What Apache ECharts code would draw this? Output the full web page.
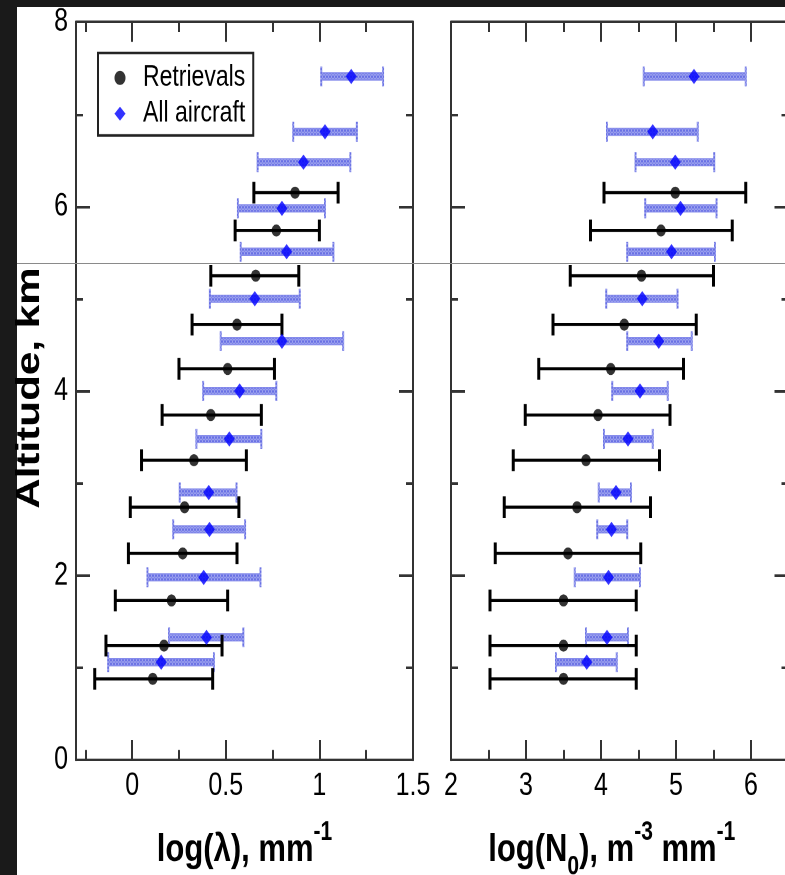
<!DOCTYPE html>
<html>
<head>
<meta charset="utf-8">
<script src="https://cdn.jsdelivr.net/npm/echarts@6/dist/echarts.min.js"></script>
<style>
  html, body { margin: 0; padding: 0; background: #1a1a1a; height: 875px; overflow: hidden; }
  /* the source picture is stretched vertically, so the chart is drawn flatter and stretched */
  #chart { width: 785px; height: 684px; transform: scaleY(1.27924); transform-origin: 0 0; }
</style>
</head>
<body>
<div id="chart"></div>
<script>
// Retrievals (black circles)
const retAlt = [6.15, 5.74, 5.25, 4.72, 4.24, 3.74, 3.25, 2.74, 2.24, 1.73, 1.24, 0.88];
const retLam = [0.87, 0.77, 0.66, 0.56, 0.51, 0.42, 0.33, 0.28, 0.27, 0.21, 0.17, 0.11];
const retLamLo = [0.65, 0.55, 0.42, 0.32, 0.25, 0.16, 0.05, -0.01, -0.02, -0.09, -0.14, -0.20];
const retLamHi = [1.10, 1.00, 0.89, 0.80, 0.76, 0.69, 0.61, 0.57, 0.56, 0.51, 0.48, 0.43];
const retN0 = [4.99, 4.80, 4.54, 4.31, 4.13, 3.96, 3.80, 3.68, 3.56, 3.50, 3.50, 3.50];
const retN0Lo = [4.04, 3.86, 3.59, 3.36, 3.17, 2.99, 2.83, 2.71, 2.59, 2.52, 2.52, 2.52];
const retN0Hi = [5.93, 5.75, 5.50, 5.27, 5.10, 4.92, 4.78, 4.66, 4.53, 4.47, 4.47, 4.47];

// All aircraft (blue diamonds)
const acAlt = [7.41, 6.81, 6.48, 5.98, 5.51, 5.00, 4.54, 4.00, 3.48, 2.90, 2.50, 1.98, 1.33, 1.06];
const acLam = [1.17, 1.03, 0.915, 0.80, 0.825, 0.655, 0.80, 0.574, 0.519, 0.409, 0.413, 0.382, 0.397, 0.155];
const acLamLo = [1.01, 0.86, 0.67, 0.565, 0.58, 0.415, 0.473, 0.379, 0.343, 0.254, 0.219, 0.082, 0.197, -0.128];
const acLamHi = [1.34, 1.20, 1.165, 1.03, 1.075, 0.895, 1.127, 0.77, 0.69, 0.557, 0.603, 0.685, 0.594, 0.437];
const acN0 = [5.24, 4.69, 4.99, 5.06, 4.94, 4.55, 4.77, 4.52, 4.36, 4.20, 4.14, 4.10, 4.08, 3.81];
const acN0Lo = [4.57, 4.08, 4.46, 4.59, 4.35, 4.07, 4.35, 4.15, 4.04, 3.97, 3.95, 3.65, 3.80, 3.40];
const acN0Hi = [5.93, 5.29, 5.51, 5.54, 5.52, 5.02, 5.21, 4.89, 4.69, 4.40, 4.35, 4.52, 4.36, 4.21];

// tick labels
const lamMajor = [0, 0.5, 1, 1.5];
const lamMinor = [-0.25, 0.25, 0.75, 1.25];
const n0Major = [2, 3, 4, 5, 6];
const n0Minor = [2.5, 3.5, 4.5, 5.5];

const FONT = "'Liberation Sans', Arial, Helvetica, sans-serif";

// hatched light-blue fill for the aircraft error bars
function hatch() {
  const c = document.createElement('canvas');
  c.width = 3; c.height = 3;
  const g = c.getContext('2d');
  g.fillStyle = '#b3b7f4';
  g.fillRect(0, 0, 3, 3);
  g.fillStyle = '#5f67e2';
  g.fillRect(0, 0, 1, 1); g.fillRect(1, 1, 1, 1); g.fillRect(2, 2, 1, 1);
  g.fillRect(2, 0, 1, 1); g.fillRect(0, 2, 1, 1);
  return { image: c, repeat: 'repeat' };
}
const blueFill = hatch();

function pack(lo, hi, alt) {
  return alt.map((a, i) => [lo[i], hi[i], a]);
}
function pts(x, alt) {
  return alt.map((a, i) => [x[i], a]);
}

function blackBar(params, api) {
  const p0 = api.coord([api.value(0), api.value(2)]);
  const p1 = api.coord([api.value(1), api.value(2)]);
  const st = { stroke: '#000', lineWidth: 2.4 };
  const cap = { stroke: '#000', lineWidth: 3 };
  return {
    type: 'group',
    children: [
      { type: 'line', shape: { x1: p0[0], y1: p0[1], x2: p1[0], y2: p1[1] }, style: st },
      { type: 'line', shape: { x1: p0[0], y1: p0[1] - 8.5, x2: p0[0], y2: p0[1] + 8.5 }, style: cap },
      { type: 'line', shape: { x1: p1[0], y1: p1[1] - 8.5, x2: p1[0], y2: p1[1] + 8.5 }, style: cap }
    ]
  };
}

function blueBar(params, api) {
  const p0 = api.coord([api.value(0), api.value(2)]);
  const p1 = api.coord([api.value(1), api.value(2)]);
  const st = { fill: blueFill, stroke: '#868cec', lineWidth: 0.8 };
  return {
    type: 'group',
    children: [
      { type: 'rect', shape: { x: p0[0], y: p0[1] - 2.8, width: p1[0] - p0[0], height: 5.6 }, style: st },
      { type: 'rect', shape: { x: p0[0] - 1, y: p0[1] - 7.8, width: 2, height: 15.6 }, style: { fill: blueFill } },
      { type: 'rect', shape: { x: p1[0] - 1, y: p1[1] - 7.8, width: 2, height: 15.6 }, style: { fill: blueFill } }
    ]
  };
}

const axisLine = { show: true, onZero: false, lineStyle: { color: '#333', width: 2 } };
const tickStyle = { color: '#333', width: 2 };
const labelStyle = { fontFamily: FONT, fontSize: 25, color: '#000' };

function xAxes(grid, min, max, major, minor, name, nameStyle) {
  return [
    { type: 'value', gridIndex: grid, min: min, max: max, position: 'bottom',
      axisLine: axisLine, splitLine: { show: false },
      axisTick: { inside: true, length: 15.6, lineStyle: tickStyle, customValues: major },
      axisLabel: Object.assign({ margin: 8, customValues: major }, labelStyle),
      name: name, nameLocation: 'middle', nameGap: 46, nameTextStyle: nameStyle },
    { type: 'value', gridIndex: grid, min: min, max: max, position: 'bottom',
      axisLine: { show: false, onZero: false }, splitLine: { show: false }, axisLabel: { show: false },
      axisTick: { inside: true, length: 7.8, lineStyle: tickStyle, customValues: minor } },
    { type: 'value', gridIndex: grid, min: min, max: max, position: 'top',
      axisLine: axisLine, splitLine: { show: false }, axisLabel: { show: false },
      axisTick: { inside: true, length: 15.6, lineStyle: tickStyle, customValues: major } },
    { type: 'value', gridIndex: grid, min: min, max: max, position: 'top',
      axisLine: { show: false, onZero: false }, splitLine: { show: false }, axisLabel: { show: false },
      axisTick: { inside: true, length: 7.8, lineStyle: tickStyle, customValues: minor } }
  ];
}

function yAxis(grid, pos, labels) {
  return {
    type: 'value', gridIndex: grid, min: 0, max: 8, interval: 2, position: pos,
    axisLine: axisLine, splitLine: { show: false },
    axisTick: { inside: true, length: 14, lineStyle: tickStyle },
    minorTick: { show: true, splitNumber: 2, length: 7, lineStyle: tickStyle },
    axisLabel: labels ? Object.assign({ margin: 8 }, labelStyle) : { show: false }
  };
}

const nameRich = {
  a: { fontFamily: FONT, fontSize: 31, fontWeight: 'bold', color: '#000', padding: [9, 0, 8, 0], verticalAlign: 'middle' },
  s: { fontFamily: FONT, fontSize: 21, fontWeight: 'bold', color: '#000', verticalAlign: 'top' },
  b: { fontFamily: FONT, fontSize: 21, fontWeight: 'bold', color: '#000', verticalAlign: 'bottom' }
};

const chart = echarts.init(document.getElementById('chart'), null, { devicePixelRatio: 2 });
chart.setOption({
  backgroundColor: '#1a1a1a',
  animation: false,
  graphic: [
    { type: 'rect', left: 17, top: 5.5, z: -100, silent: true,
      shape: { width: 768, height: 700 }, style: { fill: '#fff' } },
    { type: 'text', x: 30, y: 303.3, rotation: Math.PI / 2, z: 10,
      style: { text: 'Altitude, km', font: "bold 33px 'Liberation Sans', Arial, sans-serif",
        fill: '#000', textAlign: 'center', textVerticalAlign: 'middle' } },
    { type: 'line', z: 100, silent: true,
      shape: { x1: 17, y1: 206, x2: 785, y2: 206 }, style: { stroke: '#8a8a8a', lineWidth: 1 } }
  ],
  legend: {
    left: 98, top: 41.4, orient: 'vertical',
    data: [{ name: 'Retrievals', icon: 'circle' }, { name: 'All aircraft', icon: 'diamond' }],
    borderColor: '#222', borderWidth: 2, borderRadius: 0,
    padding: [7.5, 8, 5, 16.5], itemGap: 4, itemWidth: 11, itemHeight: 11,
    textStyle: { fontFamily: FONT, fontSize: 23, color: '#000', lineHeight: 24, padding: [0, 0, 0, 12.5] }
  },
  grid: [
    { left: 76, top: 17.2, width: 337, height: 576.9, outerBoundsMode: 'none' },
    { left: 451, top: 17.2, width: 337.5, height: 576.9, outerBoundsMode: 'none' }
  ],
  xAxis: [].concat(
    xAxes(0, -0.3, 1.5, lamMajor, lamMinor, '{a|log(λ), mm}{s|-1}', { rich: nameRich }),
    xAxes(1, 2, 6.5, n0Major, n0Minor, '{a|log(N}{b|0}{a|), m}{s|-3}{a| mm}{s|-1}',
      { rich: nameRich, padding: [0, 16, 0, 0] })
  ),
  yAxis: [yAxis(0, 'left', true), yAxis(0, 'right', false), yAxis(1, 'left', false), yAxis(1, 'right', false)],
  series: [
    { type: 'custom', name: 'acLamErr', xAxisIndex: 0, yAxisIndex: 0, renderItem: blueBar,
      encode: { x: [0, 1], y: 2 }, data: pack(acLamLo, acLamHi, acAlt), z: 2 },
    { type: 'custom', name: 'retLamErr', xAxisIndex: 0, yAxisIndex: 0, renderItem: blackBar,
      encode: { x: [0, 1], y: 2 }, data: pack(retLamLo, retLamHi, retAlt), z: 3 },
    { type: 'custom', name: 'acN0Err', xAxisIndex: 4, yAxisIndex: 2, renderItem: blueBar,
      encode: { x: [0, 1], y: 2 }, data: pack(acN0Lo, acN0Hi, acAlt), z: 2 },
    { type: 'custom', name: 'retN0Err', xAxisIndex: 4, yAxisIndex: 2, renderItem: blackBar,
      encode: { x: [0, 1], y: 2 }, data: pack(retN0Lo, retN0Hi, retAlt), z: 3 },
    { type: 'scatter', name: 'Retrievals', xAxisIndex: 0, yAxisIndex: 0, symbol: 'circle',
      symbolSize: 9.5, itemStyle: { color: '#000' }, data: pts(retLam, retAlt), z: 5 },
    { type: 'scatter', name: 'All aircraft', xAxisIndex: 0, yAxisIndex: 0, symbol: 'diamond',
      symbolSize: [11, 12], itemStyle: { color: '#0000ff' }, data: pts(acLam, acAlt), z: 4 },
    { type: 'scatter', name: 'Retrievals', xAxisIndex: 4, yAxisIndex: 2, symbol: 'circle',
      symbolSize: 9.5, itemStyle: { color: '#000' }, data: pts(retN0, retAlt), z: 5 },
    { type: 'scatter', name: 'All aircraft', xAxisIndex: 4, yAxisIndex: 2, symbol: 'diamond',
      symbolSize: [11, 12], itemStyle: { color: '#0000ff' }, data: pts(acN0, acAlt), z: 4 }
  ]
});
</script>
</body>
</html>
